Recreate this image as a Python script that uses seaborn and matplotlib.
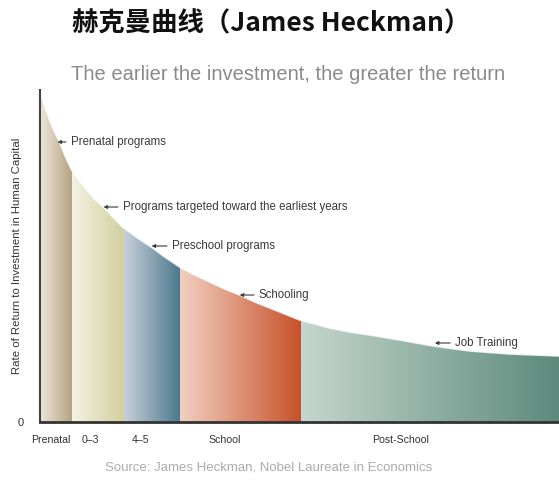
import numpy as np
import pandas as pd
import matplotlib.pyplot as plt
import matplotlib.colors as mcolors
import seaborn as sns

# curve (x = position along the life cycle, y = rate of return)
curve_x = [0, 5, 10, 15, 20, 26, 32, 40, 48, 56, 65, 74, 83, 98, 113, 125, 140, 155,
           170, 185, 200, 215, 230, 245, 260, 275, 290, 310, 330, 360, 393, 430, 470, 519]
curve_y = [332, 316, 302, 290, 280, 265, 252, 241, 231, 222, 214, 204, 195, 184, 174, 165, 155, 147,
           140, 133, 127, 120, 114, 108, 102, 98, 94, 90, 87, 82, 76, 71, 68, 66]

# stages
stage_names = ["Prenatal", "0–3", "4–5", "School", "Post-School"]
stage_edges = [0, 32, 84, 140, 261, 519]
stage_label_pos = [11, 51, 101, 185, 361]
stage_light = ["#efe6da", "#f3f2e3", "#c8d0da", "#f1cfc0", "#c4d6cd"]
stage_dark = ["#b3a17f", "#d3cf9d", "#4b788e", "#c8522a", "#5d8a7c"]

# annotations: label, arrow tip, text start
notes = ["Prenatal programs", "Programs targeted toward the earliest years",
         "Preschool programs", "Schooling", "Job Training"]
note_tip = [(18, 280), (64, 215), (112, 176), (200, 127), (395, 79)]
note_text = [(31, 280), (83, 215), (132, 176), (219, 127), (415, 79)]

sns.set_theme(style="white")
plt.rcParams["font.family"] = ["Liberation Sans", "DejaVu Sans"]

fig = plt.figure(figsize=(5.59, 4.8), dpi=100)
ax = fig.add_axes([0.0707, 0.1208, 0.9293, 0.6917])

df = pd.DataFrame({"x": curve_x, "y": curve_y})

# area under curve, used as clip path for the gradient bands
poly = ax.fill_between(df["x"], 0, df["y"], color="none", lw=0)
clip = poly.get_paths()[0]

for i in range(len(stage_names)):
    c0 = np.array(mcolors.to_rgb(stage_light[i]))
    c1 = np.array(mcolors.to_rgb(stage_dark[i]))
    t = np.linspace(0, 1, 64)[:, None]
    grad = (c0 * (1 - t) + c1 * t)[None, :, :]
    im = ax.imshow(grad, extent=[stage_edges[i], stage_edges[i + 1], 0, 340],
                   aspect="auto", interpolation="bilinear", zorder=1)
    im.set_clip_path(clip, transform=ax.transData)

sns.lineplot(data=df, x="x", y="y", ax=ax, color="white", lw=1.2, alpha=0.8, zorder=2)

for lab, tip, txt in zip(notes, note_tip, note_text):
    ax.annotate(lab, xy=tip, xytext=txt, ha="left", va="center", fontsize=8.3, color="#3a3a3a",
                arrowprops=dict(arrowstyle="-|>", color="#3a3a3a", lw=0.8,
                                mutation_scale=5, shrinkA=1, shrinkB=0), zorder=3)

ax.set_xlim(0, 519)
ax.set_ylim(0, 332)
ax.set_xticks(stage_label_pos)
ax.set_xticklabels(stage_names, fontsize=7.6, color="#333333")
ax.set_yticks([0])
ax.set_yticklabels(["0"], fontsize=8, color="#333333")
ax.tick_params(axis="x", length=0, pad=9)
ax.tick_params(axis="y", length=0, pad=11)
ax.set_xlabel("")
ax.set_ylabel("Rate of Return to Investment in Human Capital", fontsize=8.2, color="#333333")
ax.yaxis.set_label_coords(-0.034, 0.5)

for s in ["top", "right"]:
    ax.spines[s].set_visible(False)
ax.spines["left"].set_color("#444444")
ax.spines["left"].set_linewidth(1.5)
ax.spines["bottom"].set_color("#333333")
ax.spines["bottom"].set_linewidth(2)

fig.text(0.485, 0.95, "赫克曼曲线（James Heckman）", ha="center", va="center",
         fontsize=19, fontweight="bold", color="#111111",
         family=["Noto Sans CJK SC", "DejaVu Sans"])
fig.text(0.515, 0.844, "The earlier the investment, the greater the return", ha="center",
         va="center", fontsize=14.5, color="#8a8a8a")
fig.text(0.48, 0.025, "Source: James Heckman, Nobel Laureate in Economics", ha="center",
         va="center", fontsize=9.5, color="#ababab")

fig.savefig("out.png", dpi=100)
